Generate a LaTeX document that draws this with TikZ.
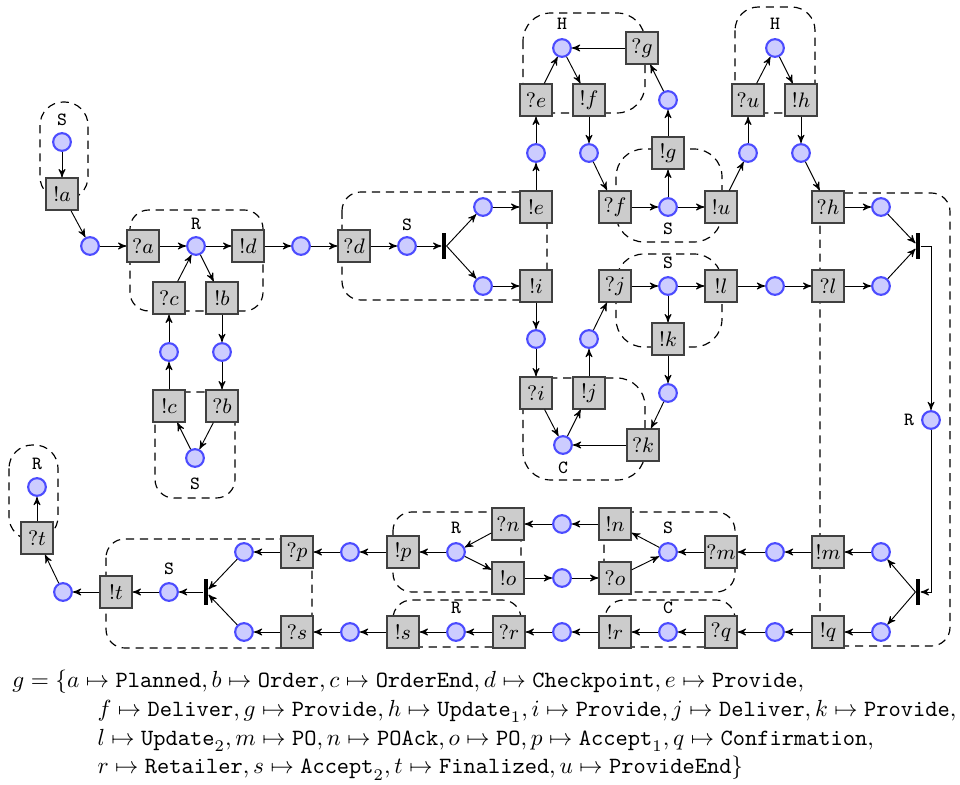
\documentclass[tikz,border=0pt]{standalone}
\usepackage{amsmath}
\usepackage{amssymb}
\usepackage{tikz}
\usetikzlibrary{shapes, arrows, positioning, calc}

\begin{document}
\begin{tikzpicture}[x=0.4292pt, y=-0.4292pt, >=stealth',
    act/.style={draw=black!75, fill=black!20, line width=0.9pt, minimum size=13.4pt, inner sep=0pt, font=\small},
    place/.style={circle, draw=blue!70, fill=blue!20, line width=0.9pt, minimum size=7.6pt, inner sep=0pt},
    bar/.style={fill=black, minimum width=1.8pt, minimum height=11pt, inner sep=0pt},
    lbl/.style={font=\footnotesize\ttfamily, inner sep=0pt},
    region/.style={line width=0.5pt, dash pattern=on 3.5pt off 2.5pt, rounded corners=8pt}]
    \useasboundingbox (0,0) rectangle (960,785);

    % Regions (drawn first, boxes hide them)
    \draw[region, rounded corners=10pt] (40,102) rectangle (88,200);
    \draw[region] (130,210) rectangle (263,311);
    \draw[region] (155,392) rectangle (235,498);
    \draw[region] (342,192) rectangle (547,300);
    \draw[region, rounded corners=12pt] (523,13) rectangle (645,113);
    \draw[region, rounded corners=12pt] (616,149) rectangle (722,242);
    \draw[region, rounded corners=10pt] (735,7) rectangle (815,113);
    \draw[region, rounded corners=12pt] (616,254) rectangle (722,347);
    \draw[region, rounded corners=12pt] (523,378) rectangle (645,480);
    \draw[region] (820,193) rectangle (950,646);
    \draw[region] (393,512) rectangle (521,592);
    \draw[region] (604,512) rectangle (735,592);
    \draw[region] (393,600) rectangle (521,647);
    \draw[region] (605,600) rectangle (735,647);
    \draw[region] (106,539) rectangle (312,648);
    \draw[region, rounded corners=10pt] (9,445) rectangle (58,540);

    % Left part
    \node[lbl] (lS1) at (62,120) {S};
    \node[place] (p1) at (62,142) {};
    \node[act] (snda) at (62,194) {$!a$};
    \node[place] (p2) at (90,246) {};
    \node[act] (rcva) at (143,246) {$?a$};
    \node[place] (pR1) at (196,246) {};
    \node[lbl] (lR1) at (196,224) {R};
    \node[act] (sndd) at (248,246) {$!d$};
    \node[act] (rcvc) at (169,298) {$?c$};
    \node[act] (sndb) at (222,298) {$!b$};
    \node[place] (p3) at (169,352) {};
    \node[place] (p4) at (222,352) {};
    \node[act] (sndc) at (169,406) {$!c$};
    \node[act] (rcvb) at (222,406) {$?b$};
    \node[place] (pS2) at (195,458) {};
    \node[lbl] (lS2) at (195,484) {S};
    \node[place] (p5) at (301,246) {};
    \node[act] (rcvd) at (354,246) {$?d$};
    \node[place] (pS3) at (407,246) {};
    \node[lbl] (lS3) at (407,225) {S};
    \node[bar] (b1) at (444,246) {};
    \node[place] (p6) at (483,207) {};
    \node[place] (p7) at (483,286) {};
    \node[act] (snde) at (536,207) {$!e$};
    \node[act] (sndi) at (536,286) {$!i$};

    % Upper part
    \node[place] (p8) at (536,153) {};
    \node[act] (rcve) at (536,100) {$?e$};
    \node[place] (pH1) at (562,48) {};
    \node[lbl] (lH1) at (562,24) {H};
    \node[act] (sndf) at (589,100) {$!f$};
    \node[act] (rcvg) at (642,48) {$?g$};
    \node[place] (p9) at (589,153) {};
    \node[act] (rcvf) at (615,207) {$?f$};
    \node[place] (pS4) at (668,207) {};
    \node[lbl] (lS4) at (668,229) {S};
    \node[act] (sndg) at (668,153) {$!g$};
    \node[place] (p10) at (668,100) {};
    \node[act] (sndu) at (721,207) {$!u$};
    \node[place] (p11) at (748,153) {};
    \node[act] (rcvu) at (748,100) {$?u$};
    \node[place] (pH2) at (775,48) {};
    \node[lbl] (lH2) at (775,24) {H};
    \node[act] (sndh) at (801,100) {$!h$};
    \node[place] (p12) at (801,153) {};
    \node[act] (rcvh) at (828,207) {$?h$};
    \node[place] (p13) at (881,207) {};

    % Middle part
    \node[place] (p14) at (536,339) {};
    \node[act] (rcvi) at (536,393) {$?i$};
    \node[place] (pC1) at (563,445) {};
    \node[lbl] (lC1) at (563,468) {C};
    \node[act] (sndj) at (589,393) {$!j$};
    \node[place] (p15) at (589,339) {};
    \node[act] (rcvj) at (615,286) {$?j$};
    \node[place] (pS5) at (668,286) {};
    \node[lbl] (lS5) at (668,263) {S};
    \node[act] (sndk) at (668,339) {$!k$};
    \node[place] (p16) at (668,393) {};
    \node[act] (rcvk) at (643,445) {$?k$};
    \node[act] (sndl) at (721,286) {$!l$};
    \node[place] (p17) at (775,286) {};
    \node[act] (rcvl) at (828,286) {$?l$};
    \node[place] (p18) at (881,286) {};
    \node[bar] (b2) at (918,246) {};
    \node[place] (pR2) at (931,420) {};
    \node[lbl] (lR2) at (909,420) {R};
    \node[bar] (b3) at (918,592) {};

    % Lower rows
    \node[place] (p19) at (881,552) {};
    \node[act] (sndm) at (828,552) {$!m$};
    \node[place] (p20) at (775,552) {};
    \node[act] (rcvm) at (721,552) {$?m$};
    \node[place] (pS6) at (668,552) {};
    \node[lbl] (lS6) at (668,528) {S};
    \node[act] (sndn) at (615,524) {$!n$};
    \node[place] (p21) at (562,524) {};
    \node[act] (rcvn) at (508,524) {$?n$};
    \node[act] (sndo) at (508,578) {$!o$};
    \node[place] (p22) at (562,578) {};
    \node[act] (rcvo) at (615,578) {$?o$};
    \node[place] (pR3) at (456,552) {};
    \node[lbl] (lR3) at (456,528) {R};
    \node[act] (sndp) at (403,552) {$!p$};
    \node[place] (p23) at (350,552) {};
    \node[act] (rcvp) at (297,552) {$?p$};
    \node[place] (p24) at (244,552) {};

    \node[place] (p25) at (881,632) {};
    \node[act] (sndq) at (828,632) {$!q$};
    \node[place] (p26) at (775,632) {};
    \node[act] (rcvq) at (721,632) {$?q$};
    \node[place] (pC2) at (668,632) {};
    \node[lbl] (lC2) at (668,608) {C};
    \node[act] (sndr) at (615,632) {$!r$};
    \node[place] (p27) at (562,632) {};
    \node[act] (rcvr) at (509,632) {$?r$};
    \node[place] (pR4) at (456,632) {};
    \node[lbl] (lR4) at (456,608) {R};
    \node[act] (snds) at (403,632) {$!s$};
    \node[place] (p28) at (350,632) {};
    \node[act] (rcvs) at (297,632) {$?s$};
    \node[place] (p29) at (244,632) {};

    \node[bar] (b4) at (206,592) {};
    \node[place] (pS7) at (169,592) {};
    \node[lbl] (lS7) at (169,569) {S};
    \node[act] (sndt) at (116,592) {$!t$};
    \node[place] (p30) at (63,592) {};
    \node[act] (rcvt) at (37,538) {$?t$};
    \node[place] (pR5) at (37,487) {};
    \node[lbl] (lR5) at (37,464) {R};

    % Arrows, left part
    \draw[->] (p1) -- (snda);
    \draw[->] (snda) -- (p2);
    \draw[->] (p2) -- (rcva);
    \draw[->] (rcva) -- (pR1);
    \draw[->] (pR1) -- (sndd);
    \draw[->] (sndd) -- (p5);
    \draw[->] (p5) -- (rcvd);
    \draw[->] (rcvd) -- (pS3);
    \draw[->] (pS3) -- (b1);
    \draw[->] (b1.east) -- (p6);
    \draw[->] (b1.east) -- (p7);
    \draw[->] (p6) -- (snde);
    \draw[->] (p7) -- (sndi);
    \draw[->] (pR1) -- (sndb);
    \draw[->] (sndb) -- (p4);
    \draw[->] (p4) -- (rcvb);
    \draw[->] (rcvb) -- (pS2);
    \draw[->] (pS2) -- (sndc);
    \draw[->] (sndc) -- (p3);
    \draw[->] (p3) -- (rcvc);
    \draw[->] (rcvc) -- (pR1);

    % Arrows, upper part
    \draw[->] (snde) -- (p8);
    \draw[->] (p8) -- (rcve);
    \draw[->] (rcve) -- (pH1);
    \draw[->] (pH1) -- (sndf);
    \draw[->] (sndf) -- (p9);
    \draw[->] (p9) -- (rcvf);
    \draw[->] (rcvf) -- (pS4);
    \draw[->] (pS4) -- (sndg);
    \draw[->] (sndg) -- (p10);
    \draw[->] (p10) -- (rcvg);
    \draw[->] (rcvg) -- (pH1);
    \draw[->] (pS4) -- (sndu);
    \draw[->] (sndu) -- (p11);
    \draw[->] (p11) -- (rcvu);
    \draw[->] (rcvu) -- (pH2);
    \draw[->] (pH2) -- (sndh);
    \draw[->] (sndh) -- (p12);
    \draw[->] (p12) -- (rcvh);
    \draw[->] (rcvh) -- (p13);
    \draw[->] (p13) -- (b2);

    % Arrows, middle part
    \draw[->] (sndi) -- (p14);
    \draw[->] (p14) -- (rcvi);
    \draw[->] (rcvi) -- (pC1);
    \draw[->] (pC1) -- (sndj);
    \draw[->] (sndj) -- (p15);
    \draw[->] (p15) -- (rcvj);
    \draw[->] (rcvj) -- (pS5);
    \draw[->] (pS5) -- (sndk);
    \draw[->] (sndk) -- (p16);
    \draw[->] (p16) -- (rcvk);
    \draw[->] (rcvk) -- (pC1);
    \draw[->] (pS5) -- (sndl);
    \draw[->] (sndl) -- (p17);
    \draw[->] (p17) -- (rcvl);
    \draw[->] (rcvl) -- (p18);
    \draw[->] (p18) -- (b2);
    \draw[->] (b2.east) -| (pR2);
    \draw[->] (pR2) |- (b3.east);
    \draw[->] (b3.west) -- (p19);
    \draw[->] (b3.west) -- (p25);

    % Arrows, lower rows
    \draw[->] (p19) -- (sndm);
    \draw[->] (sndm) -- (p20);
    \draw[->] (p20) -- (rcvm);
    \draw[->] (rcvm) -- (pS6);
    \draw[->] (pS6) -- (sndn);
    \draw[->] (sndn) -- (p21);
    \draw[->] (p21) -- (rcvn);
    \draw[->] (rcvn) -- (pR3);
    \draw[->] (pR3) -- (sndo);
    \draw[->] (sndo) -- (p22);
    \draw[->] (p22) -- (rcvo);
    \draw[->] (rcvo) -- (pS6);
    \draw[->] (pR3) -- (sndp);
    \draw[->] (sndp) -- (p23);
    \draw[->] (p23) -- (rcvp);
    \draw[->] (rcvp) -- (p24);
    \draw[->] (p24) -- (b4);
    \draw[->] (p25) -- (sndq);
    \draw[->] (sndq) -- (p26);
    \draw[->] (p26) -- (rcvq);
    \draw[->] (rcvq) -- (pC2);
    \draw[->] (pC2) -- (sndr);
    \draw[->] (sndr) -- (p27);
    \draw[->] (p27) -- (rcvr);
    \draw[->] (rcvr) -- (pR4);
    \draw[->] (pR4) -- (snds);
    \draw[->] (snds) -- (p28);
    \draw[->] (p28) -- (rcvs);
    \draw[->] (rcvs) -- (p29);
    \draw[->] (p29) -- (b4);
    \draw[->] (b4.west) -- (pS7);
    \draw[->] (pS7) -- (sndt);
    \draw[->] (sndt) -- (p30);
    \draw[->] (p30) -- (rcvt);
    \draw[->] (rcvt) -- (pR5);

    % Labelling g
    \node[anchor=north west, align=left, inner sep=0pt] (gmap) at (12,670) {%
        $g=\{a\mapsto\texttt{Planned}, b\mapsto\texttt{Order}, c\mapsto\texttt{OrderEnd}, d\mapsto\texttt{Checkpoint}, e\mapsto\texttt{Provide},$\\[0.3pt]
        \hspace*{3.65em}$f\mapsto\texttt{Deliver}, g\mapsto\texttt{Provide}, h\mapsto\texttt{Update}_1, i\mapsto\texttt{Provide}, j\mapsto\texttt{Deliver}, k\mapsto\texttt{Provide},$\\[0.3pt]
        \hspace*{3.65em}$l\mapsto\texttt{Update}_2, m\mapsto\texttt{PO}, n\mapsto\texttt{POAck}, o\mapsto\texttt{PO}, p\mapsto\texttt{Accept}_1, q\mapsto\texttt{Confirmation},$\\[0.3pt]
        \hspace*{3.65em}$r\mapsto\texttt{Retailer}, s\mapsto\texttt{Accept}_2, t\mapsto\texttt{Finalized}, u\mapsto\texttt{ProvideEnd}\}$};
\end{tikzpicture}
\end{document}
